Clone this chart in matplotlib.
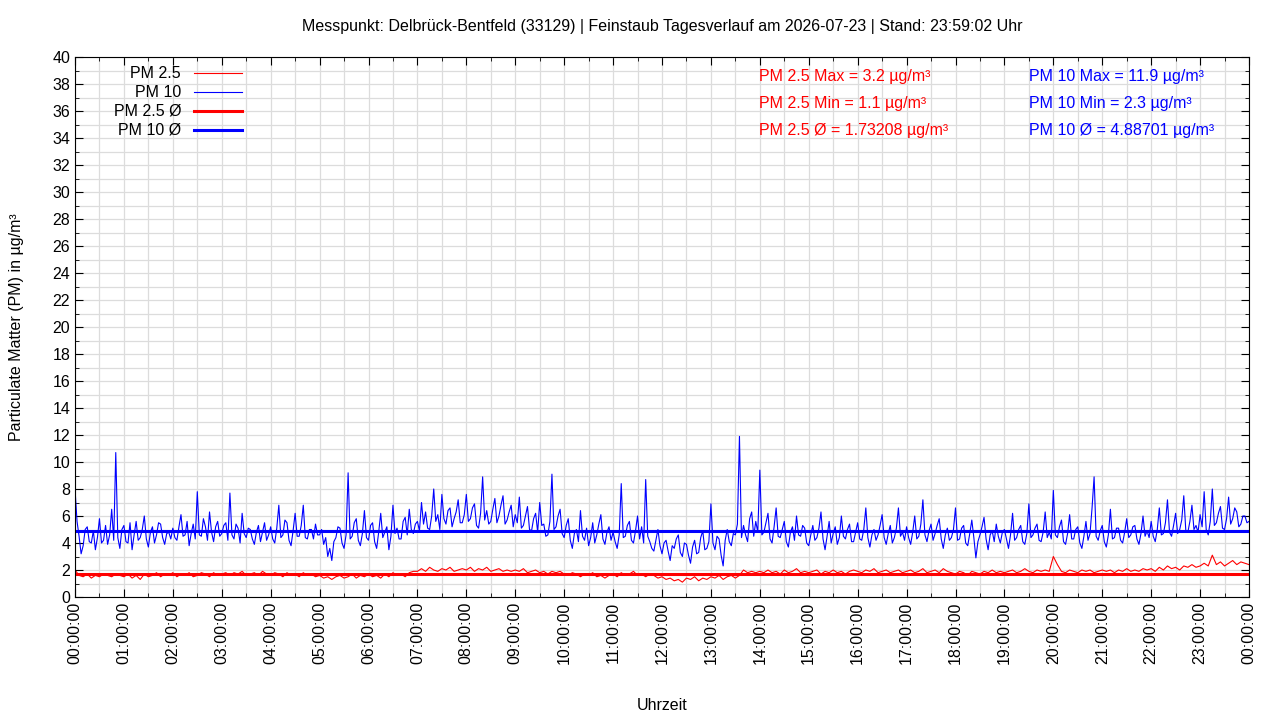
import numpy as np
import matplotlib
matplotlib.use("Agg")
import matplotlib.pyplot as plt
from matplotlib.ticker import MultipleLocator, FuncFormatter

plt.rcParams['font.family'] = ['Liberation Sans', 'DejaVu Sans']

# PM 10 values, 2.5-minute steps, one row per hour
pm10_rows = [
    [8.0, 5.6, 4.5, 3.2, 3.8, 5.0, 5.2, 4.1, 4.0, 4.9, 3.5, 4.4, 5.8, 4.0, 4.2, 5.3, 3.9, 4.6, 6.5, 4.2, 10.7, 4.4, 3.6, 5.0],
    [5.3, 4.1, 4.0, 5.5, 3.5, 4.6, 5.6, 4.2, 4.4, 5.0, 6.0, 4.3, 3.7, 4.8, 5.2, 4.0, 4.6, 5.5, 5.4, 4.4, 3.9, 4.7, 4.8, 4.3],
    [5.1, 4.4, 4.2, 5.2, 6.1, 4.5, 4.6, 5.6, 3.8, 4.7, 5.4, 4.3, 7.8, 4.6, 4.5, 5.8, 5.2, 4.2, 6.3, 4.8, 4.1, 5.2, 5.6, 4.5],
    [4.7, 5.3, 5.5, 4.2, 7.7, 4.6, 4.3, 5.4, 5.1, 4.0, 6.2, 4.7, 4.4, 5.1, 5.0, 4.3, 3.9, 4.8, 5.3, 4.1, 4.8, 5.5, 4.2, 4.6],
    [5.2, 4.3, 4.0, 5.1, 6.8, 4.4, 4.6, 5.7, 5.5, 4.2, 3.8, 4.9, 6.2, 4.5, 4.5, 5.3, 6.8, 4.4, 4.3, 5.0, 5.0, 4.3, 5.4, 4.6],
    [4.6, 5.0, 3.9, 4.4, 3.0, 3.6, 2.7, 4.1, 4.4, 5.2, 5.1, 4.0, 3.6, 4.6, 9.2, 4.3, 4.5, 5.5, 5.8, 4.2, 3.8, 4.7, 6.4, 4.4],
    [4.2, 5.3, 5.5, 4.1, 3.6, 4.8, 6.2, 4.4, 4.8, 5.2, 3.5, 4.5, 6.8, 4.7, 5.1, 4.3, 4.3, 5.6, 5.9, 4.6, 6.5, 5.0, 4.7, 5.4],
    [5.6, 4.9, 7.0, 5.4, 6.3, 5.1, 5.0, 6.0, 8.0, 5.6, 6.1, 5.0, 7.6, 5.8, 5.4, 6.4, 6.6, 5.2, 5.8, 6.3, 7.2, 5.5, 5.5, 6.1],
    [7.6, 5.6, 5.8, 6.6, 6.9, 5.3, 5.1, 6.2, 8.9, 5.7, 6.4, 5.4, 5.6, 6.5, 7.3, 5.5, 6.0, 6.8, 7.5, 5.4, 5.7, 6.3, 6.8, 5.2],
    [6.1, 5.5, 7.4, 5.1, 5.3, 6.0, 6.7, 5.0, 4.9, 5.8, 6.2, 4.8, 7.0, 5.3, 5.4, 4.5, 4.6, 5.6, 9.1, 5.0, 5.2, 6.0, 6.5, 4.7],
    [4.4, 5.3, 5.8, 4.2, 3.6, 4.7, 5.0, 4.1, 6.4, 4.5, 4.2, 5.1, 3.8, 4.4, 5.5, 4.0, 4.6, 5.4, 6.1, 4.3, 3.9, 4.8, 5.2, 4.2],
    [4.8, 4.1, 3.6, 4.6, 8.4, 4.4, 4.5, 5.3, 5.6, 4.2, 4.0, 4.9, 6.0, 4.3, 5.2, 4.0, 8.7, 4.5, 4.1, 3.6, 3.4, 4.2, 5.0, 3.8],
    [3.2, 4.0, 4.2, 3.4, 2.7, 3.8, 3.6, 4.3, 4.6, 3.3, 3.0, 4.0, 3.9, 3.1, 2.5, 3.7, 4.2, 3.2, 3.3, 4.4, 4.9, 3.5, 3.6, 4.1],
    [6.9, 4.0, 3.5, 4.5, 4.3, 3.1, 2.3, 4.2, 5.0, 4.1, 3.8, 4.7, 4.6, 5.4, 11.9, 4.4, 5.3, 4.6, 4.1, 5.8, 6.3, 4.5, 5.6, 4.8],
    [9.4, 4.6, 4.8, 5.5, 6.2, 4.3, 4.0, 5.2, 6.6, 4.5, 4.4, 5.0, 5.6, 4.1, 3.7, 4.8, 5.2, 4.2, 6.0, 4.6, 4.5, 5.3, 5.1, 4.0],
    [3.8, 4.6, 5.3, 4.2, 4.4, 5.1, 6.3, 4.3, 3.5, 4.5, 5.6, 4.0, 4.7, 5.2, 3.9, 4.4, 6.0, 4.5, 4.3, 5.0, 5.4, 4.1, 4.1, 4.8],
    [5.5, 4.3, 4.2, 5.0, 6.6, 4.4, 3.7, 4.6, 5.0, 4.2, 4.6, 5.3, 6.1, 4.4, 3.9, 4.7, 5.3, 4.0, 4.4, 5.1, 6.6, 4.5, 4.8, 4.2],
    [5.2, 4.4, 3.9, 4.8, 6.0, 4.3, 4.5, 5.4, 7.2, 4.6, 4.1, 4.9, 5.4, 4.2, 4.7, 5.3, 5.8, 4.3, 3.6, 4.6, 5.1, 4.2, 4.4, 5.0],
    [6.6, 4.2, 4.3, 5.1, 5.3, 4.0, 3.8, 4.7, 5.7, 4.4, 2.9, 4.1, 4.6, 5.2, 5.9, 4.3, 3.5, 4.6, 4.9, 4.1, 5.4, 4.5, 4.0, 4.8],
    [5.0, 4.3, 3.6, 4.6, 6.2, 4.2, 4.4, 5.0, 5.3, 4.1, 3.9, 4.7, 6.9, 4.4, 4.6, 5.1, 5.4, 4.2, 4.1, 4.8, 6.3, 4.4, 4.8, 4.3],
    [7.9, 4.6, 4.4, 5.2, 5.7, 4.1, 3.9, 4.7, 6.1, 4.3, 4.3, 5.0, 5.2, 4.0, 3.6, 4.5, 5.6, 4.2, 4.7, 6.6, 8.9, 4.5, 4.2, 4.9],
    [5.3, 4.1, 3.7, 4.6, 6.5, 4.3, 4.4, 5.1, 5.1, 4.2, 4.0, 4.8, 5.8, 4.4, 4.6, 5.2, 5.3, 4.3, 3.9, 4.7, 6.0, 4.5, 4.9, 4.4],
    [5.6, 4.5, 4.1, 5.0, 6.6, 4.6, 4.7, 5.5, 7.2, 4.8, 4.5, 5.3, 6.2, 4.7, 5.0, 5.7, 7.5, 4.9, 4.8, 5.6, 6.8, 5.0, 5.3, 4.8],
    [6.1, 5.2, 7.8, 5.0, 4.6, 5.6, 8.0, 5.3, 5.5, 6.2, 6.7, 5.1, 5.0, 5.8, 7.4, 5.4, 5.8, 6.6, 6.3, 5.2, 5.4, 6.0, 6.0, 5.5],
]
pm10_last = 5.6

# PM 2.5 values, 5-minute steps, one row per hour
pm25_rows = [
    [2.0, 1.6, 1.5, 1.7, 1.4, 1.6, 1.5, 1.7, 1.6, 1.5, 1.7, 1.6],
    [1.5, 1.7, 1.4, 1.6, 1.3, 1.7, 1.5, 1.6, 1.8, 1.5, 1.7, 1.6],
    [1.8, 1.5, 1.7, 1.6, 1.8, 1.5, 1.6, 1.8, 1.7, 1.5, 1.8, 1.6],
    [1.7, 1.8, 1.6, 1.8, 1.7, 1.9, 1.6, 1.7, 1.8, 1.6, 1.9, 1.7],
    [1.6, 1.8, 1.7, 1.5, 1.8, 1.6, 1.7, 1.5, 1.8, 1.6, 1.7, 1.5],
    [1.6, 1.4, 1.5, 1.3, 1.5, 1.6, 1.4, 1.5, 1.7, 1.4, 1.6, 1.5],
    [1.7, 1.5, 1.6, 1.4, 1.7, 1.5, 1.8, 1.6, 1.7, 1.5, 1.8, 1.9],
    [1.9, 2.1, 1.9, 2.2, 2.0, 1.9, 2.1, 2.0, 2.2, 1.9, 2.0, 2.1],
    [2.0, 2.2, 1.9, 2.1, 2.0, 2.2, 1.9, 2.0, 2.1, 1.9, 2.0, 1.9],
    [2.0, 1.9, 2.1, 1.8, 1.9, 2.0, 1.8, 1.9, 1.7, 1.9, 1.8, 1.9],
    [1.7, 1.6, 1.8, 1.7, 1.5, 1.7, 1.6, 1.8, 1.5, 1.6, 1.4, 1.6],
    [1.7, 1.5, 1.8, 1.6, 1.7, 1.9, 1.6, 1.7, 1.5, 1.7, 1.6, 1.4],
    [1.5, 1.3, 1.4, 1.2, 1.3, 1.1, 1.4, 1.3, 1.5, 1.2, 1.4, 1.3],
    [1.5, 1.4, 1.6, 1.3, 1.5, 1.6, 1.4, 1.6, 2.0, 1.8, 1.9, 1.8],
    [1.9, 1.8, 2.0, 1.8, 1.9, 1.7, 2.0, 1.8, 1.9, 2.1, 1.8, 1.9],
    [1.8, 1.9, 2.0, 1.7, 1.9, 1.8, 2.0, 1.8, 1.9, 1.7, 1.9, 2.0],
    [1.9, 1.8, 2.0, 1.9, 2.1, 1.8, 1.9, 2.0, 1.8, 1.9, 2.0, 1.8],
    [1.9, 2.0, 1.8, 1.9, 2.1, 1.8, 1.9, 2.0, 1.8, 2.1, 1.9, 1.8],
    [1.7, 1.9, 1.8, 1.6, 1.9, 1.8, 1.7, 1.9, 1.8, 2.0, 1.8, 1.9],
    [1.8, 1.9, 2.0, 1.8, 1.9, 2.1, 1.9, 1.8, 2.0, 1.9, 2.0, 1.9],
    [3.0, 2.4, 1.9, 1.8, 2.0, 1.9, 1.8, 2.0, 1.9, 2.0, 1.8, 1.9],
    [2.0, 1.9, 2.0, 1.8, 2.0, 1.9, 2.1, 1.9, 2.0, 1.9, 2.1, 2.0],
    [2.1, 1.9, 2.2, 2.0, 2.3, 2.1, 2.2, 2.0, 2.3, 2.2, 2.4, 2.2],
    [2.3, 2.5, 2.3, 3.1, 2.4, 2.6, 2.3, 2.5, 2.7, 2.4, 2.6, 2.5],
]
pm25_last = 2.4

pm25_mean = 1.73208
pm10_mean = 4.88701
pm25_max, pm25_min = 3.2, 1.1
pm10_max, pm10_min = 11.9, 2.3

title = "Messpunkt: Delbrück-Bentfeld (33129) | Feinstaub Tagesverlauf am 2026-07-23 | Stand: 23:59:02 Uhr"

pm10 = [v for row in pm10_rows for v in row] + [pm10_last]
pm25 = [v for row in pm25_rows for v in row] + [pm25_last]
t10 = np.arange(len(pm10)) * 2.5   # minutes since midnight
t25 = np.arange(len(pm25)) * 5.0

FS = 11.5

fig = plt.figure(figsize=(12.8, 7.2), dpi=100)
ax = fig.add_axes([75 / 1280, 123 / 720, 1174 / 1280, 540 / 720])

ax.plot(t25, pm25, color='red', lw=0.8)
ax.plot(t10, pm10, color='blue', lw=0.8)
ax.axhline(pm25_mean, color='red', lw=2.2)
ax.axhline(pm10_mean, color='blue', lw=2.2)

ax.set_xlim(0, 1440)
ax.set_ylim(0, 40)
ax.xaxis.set_major_locator(MultipleLocator(60))
ax.xaxis.set_minor_locator(MultipleLocator(30))
ax.yaxis.set_major_locator(MultipleLocator(2))
ax.yaxis.set_minor_locator(MultipleLocator(1))
ax.xaxis.set_major_formatter(FuncFormatter(lambda v, p: f"{int(round(v / 60)) % 24:02d}:00:00"))
ax.grid(True, which='both', color='#dcdcdc', lw=0.9)
ax.set_axisbelow(True)
ax.tick_params(which='both', direction='in', top=True, right=True, labelsize=FS)
ax.tick_params(which='major', length=6)
ax.tick_params(which='minor', length=3)
for lab in ax.get_xticklabels():
    lab.set_rotation(90)

ax.set_xlabel("Uhrzeit", fontsize=FS, labelpad=24)
ax.set_ylabel("Particulate Matter (PM) in µg/m³", fontsize=FS, labelpad=20)
# title centred over the plot area, as gnuplot does
fig.text(662 / 1280, 1 - 27 / 720, title, ha='center', va='center', fontsize=FS)

# legend, gnuplot style: right-aligned labels with the sample after them
legend_items = [("PM 2.5", 'red', 0.8), ("PM 10", 'blue', 0.8),
                ("PM 2.5 Ø", 'red', 2.2), ("PM 10 Ø", 'blue', 2.2)]
for i, (lab, col, lw) in enumerate(legend_items):
    yy = 0.970 - i * 0.035
    ax.text(0.0903, yy, lab, transform=ax.transAxes, ha='right', va='center', fontsize=FS)
    ax.plot([0.1014, 0.1422], [yy, yy], transform=ax.transAxes, color=col, lw=lw)

stats25 = [f"PM 2.5 Max = {pm25_max} µg/m³", f"PM 2.5 Min = {pm25_min} µg/m³",
           f"PM 2.5 Ø = {pm25_mean} µg/m³"]
stats10 = [f"PM 10 Max = {pm10_max} µg/m³", f"PM 10 Min = {pm10_min} µg/m³",
           f"PM 10 Ø = {pm10_mean} µg/m³"]
for i, (a, b) in enumerate(zip(stats25, stats10)):
    yy = 0.963 - i * 0.05
    ax.text(0.5826, yy, a, transform=ax.transAxes, color='red', va='center', fontsize=FS)
    ax.text(0.8126, yy, b, transform=ax.transAxes, color='blue', va='center', fontsize=FS)

fig.savefig("out.png", dpi=100)
